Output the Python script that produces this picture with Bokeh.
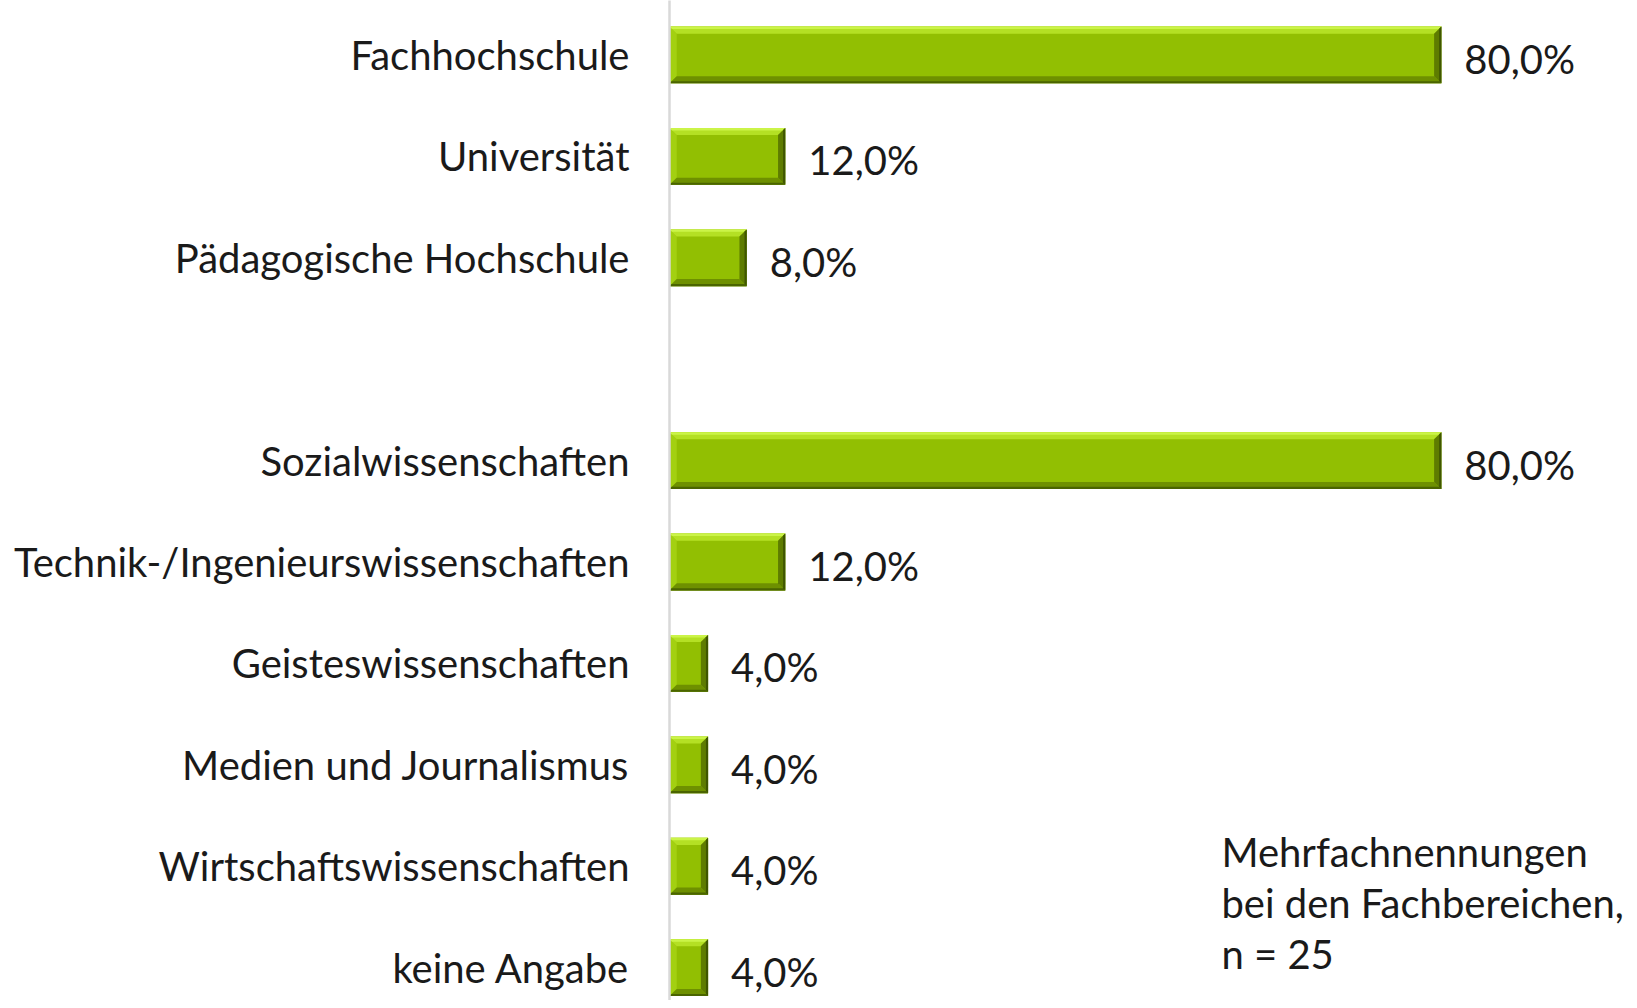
from bokeh.plotting import figure
from bokeh.models import Range1d, FixedTicker, Label
from bokeh.core.properties import value
from bokeh.embed import file_html
from bokeh.resources import INLINE

# ---- data ----
categories = [
    "Fachhochschule",
    "Universität",
    "Pädagogische Hochschule",
    "",
    "Sozialwissenschaften",
    "Technik-/Ingenieurswissenschaften",
    "Geisteswissenschaften",
    "Medien und Journalismus",
    "Wirtschaftswissenschaften",
    "keine Angabe",
]
values = [80.0, 12.0, 8.0, None, 80.0, 12.0, 4.0, 4.0, 4.0, 4.0]
note_lines = ["Mehrfachnennungen", "bei den Fachbereichen,", "n = 25"]

FONT = "Lato"
FS = "40px"

W, H = 1629, 1000
p = figure(width=W, height=H, output_backend="svg", toolbar_location=None,
           x_range=Range1d(0, 99.5), y_range=Range1d(9.324, -0.537),
           min_border_left=669, min_border_right=0, min_border_top=0,
           min_border_bottom=0, outline_line_color=None, x_axis_location=None)
p.xgrid.visible = False
p.ygrid.visible = False

pos = list(range(len(categories)))
p.yaxis.ticker = FixedTicker(ticks=pos)
p.yaxis.major_label_overrides = {i: c for i, c in zip(pos, categories)}
p.yaxis.major_tick_out = 0
p.yaxis.major_tick_in = 0
p.yaxis.minor_tick_out = 0
p.yaxis.minor_tick_in = 0
p.yaxis.major_label_standoff = 40
p.yaxis.axis_line_color = "#D9D9D9"
p.yaxis.axis_line_width = 2.5
p.yaxis.major_label_text_font = FONT
p.yaxis.major_label_text_font_size = FS
p.yaxis.major_label_text_color = "#1a1a1a"

# ---- bars with bevel ----
h = 0.56
bx = 0.75   # bevel in x data units
by = 0.07   # bevel in y data units
ys_b = [y for y, v in zip(pos, values) if v is not None]
vs_b = [v for v in values if v is not None]

p.hbar(y=ys_b, right=vs_b, left=0, height=h, fill_color="#92BF02", line_color=None)

top_xs, top_ys, bot_xs, bot_ys, r_xs, r_ys, l_xs, l_ys = ([] for _ in range(8))
hl_xs, hl_ys, db_xs, db_ys, dr_xs, dr_ys = ([] for _ in range(6))
for y, v in zip(ys_b, vs_b):
    yt, yb = y - h / 2, y + h / 2
    top_xs.append([0, v, v - bx, bx]); top_ys.append([yt, yt, yt + by, yt + by])
    hl_xs.append([0, v, v - bx * 0.35, bx * 0.35]); hl_ys.append([yt, yt, yt + by * 0.35, yt + by * 0.35])
    bot_xs.append([0, v, v - bx, bx]); bot_ys.append([yb, yb, yb - by, yb - by])
    db_xs.append([0, v, v - bx * 0.3, bx * 0.3]); db_ys.append([yb, yb, yb - by * 0.3, yb - by * 0.3])
    r_xs.append([v, v, v - bx, v - bx]); r_ys.append([yt, yb, yb - by, yt + by])
    dr_xs.append([v, v, v - bx * 0.3, v - bx * 0.3]); dr_ys.append([yt, yb, yb - by * 0.3, yt + by * 0.3])
    l_xs.append([0, 0, bx, bx]); l_ys.append([yt, yb, yb - by, yt + by])

p.patches(l_xs, l_ys, fill_color="#A3D011", line_color=None)
p.patches(top_xs, top_ys, fill_color="#B4E024", line_color=None)
p.patches(hl_xs, hl_ys, fill_color="#CBF448", line_color=None)
p.patches(bot_xs, bot_ys, fill_color="#6E9000", line_color=None)
p.patches(r_xs, r_ys, fill_color="#5E7C00", line_color=None)
p.patches(db_xs, db_ys, fill_color="#4A6400", line_color=None)
p.patches(dr_xs, dr_ys, fill_color="#3F5600", line_color=None)

# ---- value labels ----
labels = [f"{v:.1f}".replace(".", ",") + "%" for v in vs_b]
p.text(x=vs_b, y=ys_b, text=labels, x_offset=23, y_offset=4,
       text_baseline="middle", text_align="left",
       text_font=value(FONT), text_font_size=FS, text_color="#1a1a1a")

# ---- note ----
note_y = [7.855, 8.36, 8.87]
for t, yy in zip(note_lines, note_y):
    p.add_layout(Label(x=57.2, y=yy, text=t, text_baseline="middle",
                       text_font=FONT, text_font_size=FS, text_color="#1a1a1a"))

open("out.html", "w").write(file_html(p, INLINE))
